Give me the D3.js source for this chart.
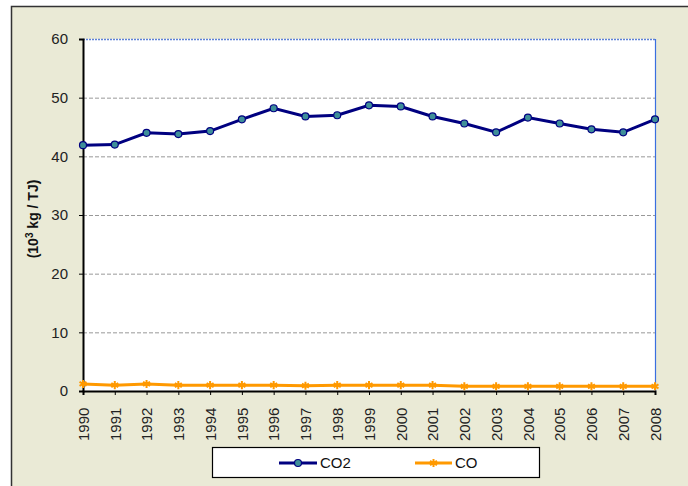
<!DOCTYPE html>
<html>
<head>
<meta charset="utf-8">
<script src="https://cdn.jsdelivr.net/npm/d3@7"></script>
<style>
  body { margin: 0; background: #ffffff; }
  svg { display: block; font-family: "Liberation Sans", Arial, sans-serif; }
</style>
</head>
<body>
<svg width="688" height="486"></svg>
<script>
// chart values
const years = [1990, 1991, 1992, 1993, 1994, 1995, 1996, 1997, 1998, 1999,
    2000, 2001, 2002, 2003, 2004, 2005, 2006, 2007, 2008];
const co2 = [41.9, 42.0, 44.0, 43.8, 44.3, 46.3, 48.2, 46.8, 47.0, 48.7,
    48.5, 46.8, 45.6, 44.1, 46.6, 45.6, 44.6, 44.1, 46.3];
const co = [1.2, 1.0, 1.2, 1.0, 1.0, 1.0, 1.0, 0.9, 1.0, 1.0,
    1.0, 1.0, 0.8, 0.8, 0.8, 0.8, 0.8, 0.8, 0.8];
const yTicks = [0, 10, 20, 30, 40, 50, 60];
const seriesNames = ['CO2', 'CO'];

const svg = d3.select('svg');
const plot = { left: 83, top: 39, right: 655, bottom: 391 };

// outer chart frame
svg.append('rect')
    .attr('x', 11.5).attr('y', 6.5)
    .attr('width', 700).attr('height', 500)
    .attr('fill', '#eaead6')
    .attr('stroke', '#333333').attr('stroke-width', 1.5);

const x = d3.scalePoint().domain(years).range([plot.left, plot.right]);
const y = d3.scaleLinear().domain([0, 60]).range([plot.bottom, plot.top]);

// plot area
svg.append('rect')
    .attr('x', plot.left).attr('y', plot.top)
    .attr('width', plot.right - plot.left).attr('height', plot.bottom - plot.top)
    .attr('fill', '#ffffff');

// gridlines
svg.append('g')
    .selectAll('line')
    .data(yTicks.filter(d => d > 0 && d < 60))
    .enter().append('line')
    .attr('x1', plot.left).attr('x2', plot.right)
    .attr('y1', d => y(d) + 0.5).attr('y2', d => y(d) + 0.5)
    .attr('stroke', '#999999')
    .attr('stroke-dasharray', '4,2');

// top and right border of plot in blue
svg.append('line')
    .attr('x1', plot.left).attr('x2', plot.right)
    .attr('y1', plot.top + 0.5).attr('y2', plot.top + 0.5)
    .attr('stroke', '#5f82d6').attr('stroke-width', 1.5)
    .attr('stroke-dasharray', '2,1');
svg.append('line')
    .attr('x1', plot.right + 0.5).attr('x2', plot.right + 0.5)
    .attr('y1', plot.top).attr('y2', plot.bottom)
    .attr('stroke', '#3a6fe0').attr('stroke-width', 1.2);

// y axis
const yAxis = svg.append('g')
    .attr('transform', 'translate(' + plot.left + ',0)')
    .call(d3.axisLeft(y).tickValues(yTicks).tickSize(4).tickPadding(11));
yAxis.select('.domain').attr('stroke', '#000').attr('stroke-width', 2);
yAxis.selectAll('.tick line').attr('stroke', '#000').attr('stroke-width', 1);
yAxis.selectAll('.tick text')
    .attr('font-size', 15)
    .attr('fill', '#222')
    .attr('font-family', '"Liberation Sans", Arial, sans-serif');

// x axis
const xAxis = svg.append('g')
    .attr('transform', 'translate(0,' + plot.bottom + ')')
    .call(d3.axisBottom(x).tickSize(4).tickPadding(0));
xAxis.select('.domain').attr('stroke', '#000').attr('stroke-width', 2);
xAxis.selectAll('.tick line').attr('stroke', '#000').attr('stroke-width', 1);
xAxis.selectAll('.tick text')
    .attr('font-size', 15)
    .attr('fill', '#222')
    .attr('font-family', '"Liberation Sans", Arial, sans-serif')
    .attr('transform', 'translate(0,50) rotate(-90)')
    .attr('text-anchor', 'start')
    .attr('dy', '0.35em')
    .attr('y', 0)
    .attr('x', 0);

// y axis title
const title = svg.append('text')
    .attr('transform', 'translate(38,219) rotate(-90)')
    .attr('text-anchor', 'middle')
    .attr('font-size', 14)
    .attr('font-weight', 'bold')
    .attr('fill', '#111');
title.append('tspan').text('(10');
title.append('tspan').text('3').attr('font-size', 10).attr('dy', -5);
title.append('tspan').text(' kg / TJ)').attr('dy', 5);

// series
const line = d3.line().x((d, i) => x(years[i])).y(d => y(d));

svg.append('path')
    .datum(co)
    .attr('fill', 'none')
    .attr('stroke', '#ff9900')
    .attr('stroke-width', 3)
    .attr('d', line);
const star = d3.symbol().type(d3.symbolAsterisk).size(45);
svg.append('g')
    .selectAll('path')
    .data(co)
    .enter().append('path')
    .attr('transform', (d, i) => 'translate(' + x(years[i]) + ',' + y(d) + ')')
    .attr('d', star)
    .attr('fill', 'none')
    .attr('stroke', '#ff9900')
    .attr('stroke-width', 2);

svg.append('path')
    .datum(co2)
    .attr('fill', 'none')
    .attr('stroke', '#000080')
    .attr('stroke-width', 3)
    .attr('d', line);
svg.append('g')
    .selectAll('circle')
    .data(co2)
    .enter().append('circle')
    .attr('cx', (d, i) => x(years[i]))
    .attr('cy', d => y(d))
    .attr('r', 3.5)
    .attr('fill', '#3f8f99')
    .attr('stroke', '#000080')
    .attr('stroke-width', 1.2);

// legend
const legend = svg.append('g');
legend.append('rect')
    .attr('x', 212.5).attr('y', 447.5)
    .attr('width', 327).attr('height', 30)
    .attr('fill', '#ffffff')
    .attr('stroke', '#000').attr('stroke-width', 1.2);

const legendItems = [
    { name: seriesNames[0], x1: 279, x2: 317, color: '#000080' },
    { name: seriesNames[1], x1: 415, x2: 452, color: '#ff9900' }
];
const ly = 463;
legendItems.forEach((it, k) => {
    legend.append('line')
        .attr('x1', it.x1).attr('x2', it.x2)
        .attr('y1', ly).attr('y2', ly)
        .attr('stroke', it.color).attr('stroke-width', 3);
    if (k === 0) {
        legend.append('circle')
            .attr('cx', (it.x1 + it.x2) / 2).attr('cy', ly).attr('r', 3.5)
            .attr('fill', '#3f8f99').attr('stroke', '#000080').attr('stroke-width', 1.2);
    } else {
        legend.append('path')
            .attr('transform', 'translate(' + (it.x1 + it.x2) / 2 + ',' + ly + ')')
            .attr('d', star)
            .attr('fill', 'none').attr('stroke', it.color).attr('stroke-width', 2);
    }
    legend.append('text')
        .attr('x', it.x2 + 3).attr('y', ly)
        .attr('dy', '0.36em')
        .attr('font-size', 15)
        .attr('fill', '#111')
        .text(it.name);
});
</script>
</body>
</html>
